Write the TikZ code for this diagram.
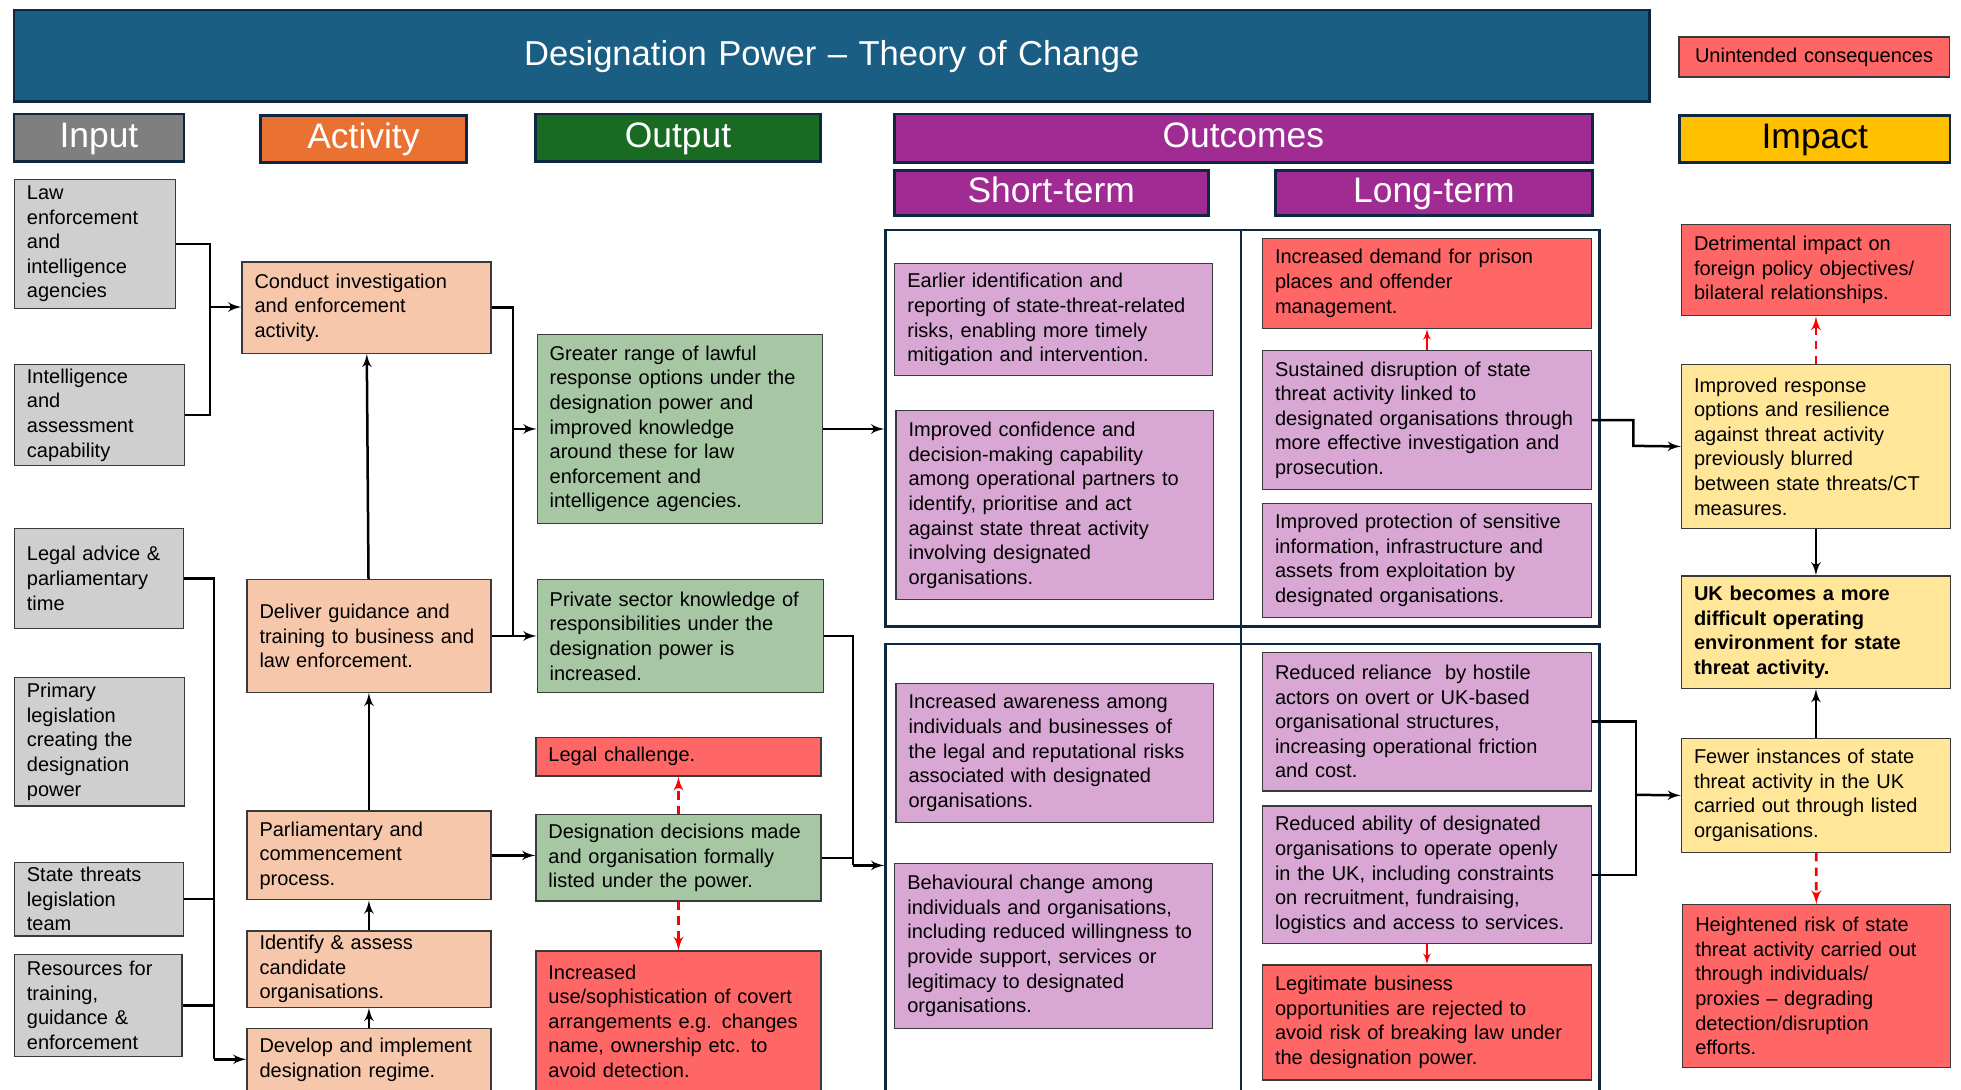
\documentclass[tikz,border=0pt]{standalone}
\usepackage{fontspec}
\setmainfont{Liberation Sans}
\usepackage{tikz}
\definecolor{navy}{HTML}{0E2841}
\definecolor{titlebg}{HTML}{1A5F83}
\definecolor{inhd}{HTML}{7F7F7F}
\definecolor{acthd}{HTML}{E97132}
\definecolor{outhd}{HTML}{196B24}
\definecolor{ochd}{HTML}{A02B93}
\definecolor{imphd}{HTML}{FFC000}
\definecolor{boxline}{HTML}{3A3A3A}
\definecolor{infill}{HTML}{CFCFCF}
\definecolor{actfill}{HTML}{F7C7AC}
\definecolor{outfill}{HTML}{A6C6A4}
\definecolor{ocfill}{HTML}{D8A7D3}
\definecolor{impfill}{HTML}{FFE699}
\definecolor{ucfill}{HTML}{FF6666}
\tikzstyle{box}=[draw=boxline, line width=0.6pt, anchor=north west, inner xsep=6pt, inner ysep=2pt, align=left, font=\fontsize{9.6}{11.8}\selectfont]
\tikzstyle{inbox}=[box, fill=infill]
\tikzstyle{actbox}=[box, fill=actfill]
\tikzstyle{outbox}=[box, fill=outfill]
\tikzstyle{ocbox}=[box, fill=ocfill]
\tikzstyle{impbox}=[box, fill=impfill]
\tikzstyle{ucbox}=[box, fill=ucfill]
\tikzstyle{head}=[draw=navy, line width=1.3pt, anchor=north west, inner xsep=6pt, inner ysep=0pt, align=center, text=white, text height=12.6pt, text depth=3.6pt, font=\fontsize{17}{20}\selectfont]
\tikzstyle{ocframe}=[draw=navy, line width=1.1pt, anchor=north west, inner sep=0pt]
\tikzstyle{link}=[line width=1.2pt]
\tikzstyle{arrow}=[link,->]
\tikzstyle{uc}=[red, line width=1.3pt, dash pattern=on 4pt off 3pt, ->]
\tikzstyle{ucsolid}=[red, line width=0.8pt, ->]
\tikzset{sz/.code 2 args={%
  \pgfmathsetmacro\boxw{#1*0.6}%
  \pgfmathsetmacro\boxh{#2*0.6}%
  \pgfmathsetmacro\boxt{#1*0.6-12}%
  \edef\boxopts{\noexpand\pgfkeysalso{minimum width=\boxw pt, minimum height=\boxh pt, text width=\boxt pt}}%
  \boxopts}}
\usetikzlibrary{arrows,positioning,calc}

\begin{document}
\begin{tikzpicture}[x=0.6pt,y=-0.6pt,>=latex']
    \useasboundingbox (0,0) rectangle (1568,871);
    % headers
    \node (title) [head, fill=titlebg, font=\fontsize{16.6}{20}\selectfont, sz={1308}{73}] at (10,7) {Designation Power -- Theory of Change};
    \node (key) [ucbox, align=center, sz={216}{32}] at (1342,29) {Unintended consequences};
    \node (hin) [head, fill=inhd, sz={136}{38}] at (10,90) {Input};
    \node (hact) [head, fill=acthd, sz={165}{38}] at (207,91) {Activity};
    \node (hout) [head, fill=outhd, sz={228}{38}] at (427,90) {Output};
    \node (hoc) [head, fill=ochd, sz={558}{39}] at (714,90) {Outcomes};
    \node (hshort) [head, fill=ochd, sz={251}{36}] at (714,135) {Short-term};
    \node (hlong) [head, fill=ochd, sz={253}{36}] at (1019,135) {Long-term};
    \node (himp) [head, fill=imphd, text=black, sz={216}{38}] at (1342,91) {Impact};
    % inputs
    \node (in1) [inbox, sz={129}{103}] at (11,143) {Law\\enforcement\\and\\intelligence\\agencies};
    \node (in2) [inbox, sz={136}{80}] at (11,291) {Intelligence\\and\\assessment\\capability};
    \node (in3) [inbox, sz={135}{80}] at (11,422) {Legal advice \&\\parliamentary\\time};
    \node (in4) [inbox, sz={136}{103}] at (11,541) {Primary\\legislation\\creating the\\designation\\power};
    \node (in5) [inbox, sz={135}{59}] at (11,689) {State threats\\legislation\\team};
    \node (in6) [inbox, sz={134}{81}] at (11,763) {Resources for\\training,\\guidance \&\\enforcement};
    % activities
    \node (a1) [actbox, sz={199}{73}] at (193,209) {Conduct investigation\\and enforcement\\activity.};
    \node (a2) [actbox, sz={195}{90}] at (197,463) {Deliver guidance and\\training to business and\\law enforcement.};
    \node (a3) [actbox, sz={195}{71}] at (197,648) {Parliamentary and\\commencement\\process.};
    \node (a4) [actbox, sz={195}{60}] at (197,744) {Identify \& assess\\candidate\\organisations.};
    \node (a5) [actbox, sz={195}{50}] at (197,822) {Develop and implement\\designation regime.};
    % outputs
    \node (o1) [outbox, sz={228}{151}] at (429,267) {Greater range of lawful\\response options under the\\designation power and\\improved knowledge\\around these for law\\enforcement and\\intelligence agencies.};
    \node (o2) [outbox, sz={229}{90}] at (429,463) {Private sector knowledge of\\responsibilities under the\\designation power is\\increased.};
    \node (o3) [ucbox, sz={228}{31}] at (428,589) {Legal challenge.};
    \node (o4) [outbox, sz={228}{69}] at (428,651) {Designation decisions made\\and organisation formally\\listed under the power.};
    \node (o5) [ucbox, sz={228}{112}] at (428,760) {Increased\\use/sophistication of covert\\arrangements e.g. changes\\name, ownership etc. to\\avoid detection.};
    % outcome frames
    \node (ftop) [ocframe, sz={571}{317}] at (707,183) {};
    \node (fbot) [ocframe, sz={571}{370}] at (707,514) {};
    \draw[navy, line width=1.1pt] (992,183) -- (992,884);
    % short-term
    \node (s1) [ocbox, sz={254}{90}] at (715,210) {Earlier identification and\\reporting of state-threat-related\\risks, enabling more timely\\mitigation and intervention.};
    \node (s2) [ocbox, sz={254}{151}] at (716,328) {Improved confidence and\\decision-making capability\\among operational partners to\\identify, prioritise and act\\against state threat activity\\involving designated\\organisations.};
    \node (s3) [ocbox, sz={254}{111}] at (716,546) {Increased awareness among\\individuals and businesses of\\the legal and reputational risks\\associated with designated\\organisations.};
    \node (s4) [ocbox, sz={254}{132}] at (715,690) {Behavioural change among\\individuals and organisations,\\including reduced willingness to\\provide support, services or\\legitimacy to designated\\organisations.};
    % long-term
    \node (l1) [ucbox, sz={263}{72}] at (1009,190) {Increased demand for prison\\places and offender\\management.};
    \node (l2) [ocbox, sz={263}{111}] at (1009,280) {Sustained disruption of state\\threat activity linked to\\designated organisations through\\more effective investigation and\\prosecution.};
    \node (l3) [ocbox, sz={263}{91}] at (1009,402) {Improved protection of sensitive\\information, infrastructure and\\assets from exploitation by\\designated organisations.};
    \node (l4) [ocbox, sz={263}{111}] at (1009,521) {Reduced reliance\ \ by hostile\\actors on overt or UK-based\\organisational structures,\\increasing operational friction\\and cost.};
    \node (l5) [ocbox, sz={263}{110}] at (1009,644) {Reduced ability of designated\\organisations to operate openly\\in the UK, including constraints\\on recruitment, fundraising,\\logistics and access to services.};
    \node (l6) [ucbox, sz={263}{92}] at (1009,771) {Legitimate business\\opportunities are rejected to\\avoid risk of breaking law under\\the designation power.};
    % impact
    \node (i1) [ucbox, sz={215}{73}] at (1344,179) {Detrimental impact on\\foreign policy objectives/\\bilateral relationships.};
    \node (i2) [impbox, sz={215}{131}] at (1344,291) {Improved response\\options and resilience\\against threat activity\\previously blurred\\between state threats/CT\\measures.};
    \node (i3) [impbox, sz={215}{90}] at (1344,460) {\bfseries UK becomes a more\\difficult operating\\environment for state\\threat activity.};
    \node (i4) [impbox, sz={215}{91}] at (1344,590) {Fewer instances of state\\threat activity in the UK\\carried out through listed\\organisations.};
    \node (i5) [ucbox, sz={214}{130}] at (1345,723) {Heightened risk of state\\threat activity carried out\\through individuals/\\proxies -- degrading\\detection/disruption\\efforts.};
    % junctions
    \coordinate (jin) at (168,245.5);
    \coordinate (jleg) at (171,847);
    \coordinate (jact) at (410,508);
    \coordinate (jout) at (682,692);
    \coordinate (jlt) at (1306,356.5);
    \coordinate (jlb) at (1308,635.5);
    % connectors
    \draw[link] (in1.east) -| (jin);
    \draw[link] (in2.east) -| (jin);
    \draw[arrow] (jin) -- (jin -| a1.west);
    \draw[link] (in3.east) -| (jleg);
    \draw[link] (in5.east) -- (in5.east -| jleg);
    \draw[link] (in6.east) -- (in6.east -| jleg);
    \draw[arrow] (jleg) -- (jleg -| a5.west);
    \path[arrow]
        (a5) edge (a4)
        (a4) edge (a3)
        (a3) edge (a2)
        (a2) edge (a1);
    \draw[link] (a1.east) -| (jact);
    \draw[arrow] (a2.east) -- (o2.west);
    \draw[arrow] (jact |- o1.west) -- (o1.west);
    \draw[arrow] (a3.east) -- (a3.east -| o4.west);
    \draw[arrow] (o1.east) -- (o1.east -| ftop.west);
    \draw[link] (o2.east) -| (jout);
    \draw[link] (o4.east) -- (o4.east -| jout);
    \draw[arrow] (jout) -- (jout -| fbot.west);
    \draw[arrow] (l2.east) -| (jlt) -- (i2.west);
    \draw[link] (l4.east) -| (jlb) |- (l5.east);
    \draw[arrow] (jlb) -- (i4.west);
    \path[arrow]
        (i2) edge (i3)
        (i4) edge (i3);
    \path[uc]
        (o4) edge (o3)
        (o4) edge (o5)
        (i2) edge (i1)
        (i4) edge (i5);
    \path[ucsolid]
        (l2) edge (l1)
        (l5) edge (l6);
\end{tikzpicture}
\end{document}
